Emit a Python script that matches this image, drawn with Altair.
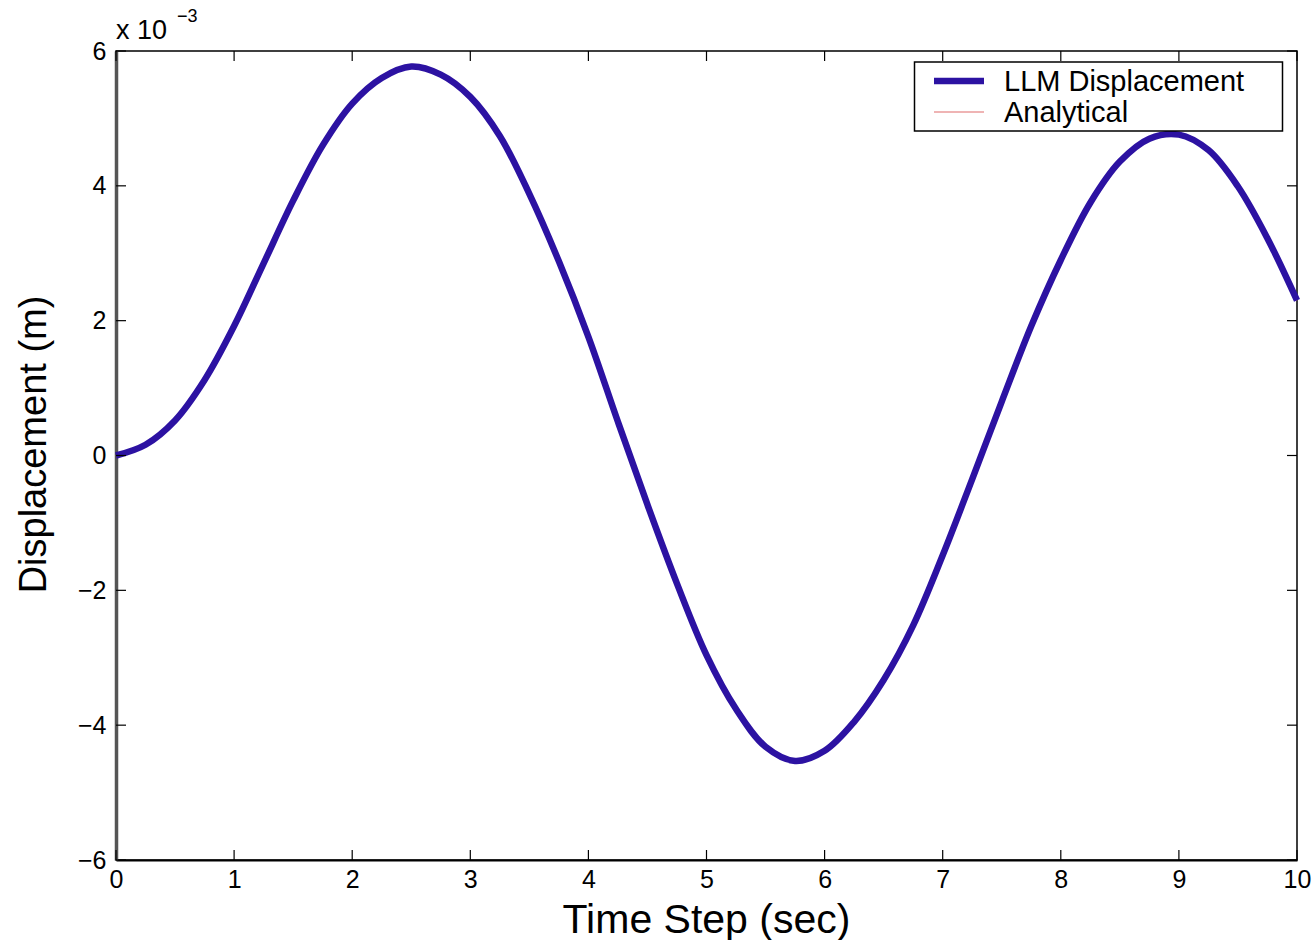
import altair as alt
import pandas as pd

# ---- data (displacement in units of 1e-3 m) ----
time_s = [0.0, 0.25, 0.5, 0.75, 1.0, 1.25, 1.5, 1.75, 2.0, 2.25, 2.5, 2.75,
          3.0, 3.25, 3.5, 3.75, 4.0, 4.25, 4.5, 4.75, 5.0, 5.25, 5.5, 5.75,
          6.0, 6.25, 6.5, 6.75, 7.0, 7.25, 7.5, 7.75, 8.0, 8.25, 8.5, 8.75,
          9.0, 9.25, 9.5, 9.75, 10.0]
llm_disp = [0.0, 0.16, 0.52, 1.12, 1.92, 2.85, 3.78, 4.60, 5.22, 5.60, 5.77, 5.65,
            5.32, 4.74, 3.88, 2.88, 1.76, 0.50, -0.73, -1.90, -2.96, -3.76, -4.32, -4.53,
            -4.38, -3.95, -3.33, -2.52, -1.48, -0.35, 0.80, 1.92, 2.90, 3.75, 4.36, 4.70,
            4.76, 4.53, 3.99, 3.22, 2.30]
analytical_disp = [0.0, 0.16, 0.52, 1.12, 1.92, 2.85, 3.78, 4.60, 5.22, 5.60, 5.77, 5.65,
                   5.32, 4.74, 3.88, 2.88, 1.76, 0.50, -0.73, -1.90, -2.96, -3.76, -4.32, -4.53,
                   -4.38, -3.95, -3.33, -2.52, -1.48, -0.35, 0.80, 1.92, 2.90, 3.75, 4.36, 4.70,
                   4.76, 4.53, 3.99, 3.22, 2.30]
series_names = ["LLM Displacement", "Analytical"]
series_colors = ["#2c12a2", "#e06a6a"]
series_widths = [6.5, 1.2]
x_ticks = [0, 1, 2, 3, 4, 5, 6, 7, 8, 9, 10]
y_ticks = [-6, -4, -2, 0, 2, 4, 6]

W, H = 1181, 809
FONT = "Liberation Sans"

df_llm = pd.DataFrame({"t": time_s, "v": llm_disp, "series": series_names[0]})
df_ana = pd.DataFrame({"t": time_s, "v": analytical_disp, "series": series_names[1]})
df_xt = pd.DataFrame({"t": x_ticks})
df_yt = pd.DataFrame({"v": y_ticks})

xscale = alt.Scale(domain=[0, 10], nice=False, zero=False)
yscale = alt.Scale(domain=[-6, 6], nice=False, zero=False)

xaxis = alt.Axis(values=x_ticks, format="d", ticks=False, tickSize=0, grid=False,
                 labelPadding=7, labelFlush=False, labelOverlap=False,
                 labelFontSize=25, labelFont=FONT, labelColor="black",
                 domainColor="black", domainWidth=2,
                 title="Time Step (sec)", titleFont=FONT, titleFontSize=41,
                 titleFontWeight="normal", titleColor="black",
                 titleX=590, titleY=72, titleBaseline="alphabetic", titleAlign="center")
yaxis = alt.Axis(values=y_ticks, format="d", ticks=False, tickSize=0, grid=False,
                 labelPadding=10, labelFlush=False, labelOverlap=False,
                 labelFontSize=25, labelFont=FONT, labelColor="black",
                 domainColor="#555555", domainWidth=3.5,
                 title="Displacement (m)", titleFont=FONT, titleFontSize=38,
                 titleFontWeight="normal", titleColor="black",
                 titleX=-82, titleY=393, titleAngle=270, titleBaseline="middle",
                 titleAlign="center")

color = alt.Color("series:N",
                  scale=alt.Scale(domain=series_names, range=series_colors),
                  legend=None)
swidth = alt.StrokeWidth("series:N",
                         scale=alt.Scale(domain=series_names, range=series_widths),
                         legend=None)

ana_line = alt.Chart(df_ana).mark_line(interpolate="catmull-rom").encode(
    x=alt.X("t:Q", scale=xscale, axis=xaxis),
    y=alt.Y("v:Q", scale=yscale, axis=yaxis),
    color=color, strokeWidth=swidth)
llm_line = alt.Chart(df_llm).mark_line(interpolate="catmull-rom").encode(
    x=alt.X("t:Q", scale=xscale), y=alt.Y("v:Q", scale=yscale),
    color=color, strokeWidth=swidth)

tick_len = 10
bot_ticks = alt.Chart(df_xt).mark_rule(color="black", strokeWidth=1.2).encode(
    x=alt.X("t:Q", scale=xscale), y=alt.value(H), y2=alt.value(H - tick_len))
top_ticks = alt.Chart(df_xt).mark_rule(color="black", strokeWidth=1.2).encode(
    x=alt.X("t:Q", scale=xscale), y=alt.value(0), y2=alt.value(tick_len))
left_ticks = alt.Chart(df_yt).mark_rule(color="black", strokeWidth=1.2).encode(
    y=alt.Y("v:Q", scale=yscale), x=alt.value(0), x2=alt.value(tick_len))
right_ticks = alt.Chart(df_yt).mark_rule(color="black", strokeWidth=1.2).encode(
    y=alt.Y("v:Q", scale=yscale), x=alt.value(W), x2=alt.value(W - tick_len))

# exponent label "x 10^-3"
exp_base = alt.Chart(pd.DataFrame({"txt": ["x 10"]})).mark_text(
    font=FONT, fontSize=27, align="left", baseline="alphabetic", color="black").encode(
    text="txt:N", x=alt.value(0), y=alt.value(-12))
exp_sup = alt.Chart(pd.DataFrame({"txt": ["\u22123"]})).mark_text(
    font=FONT, fontSize=18, align="left", baseline="alphabetic", color="black").encode(
    text="txt:N", x=alt.value(61), y=alt.value(-29))

# legend (MATLAB-style box in the top right corner)
leg_box = alt.Chart(pd.DataFrame({"k": [0]})).mark_rect(
    fill="white", stroke="black", strokeWidth=1.5).encode(
    x=alt.value(798.5), x2=alt.value(1166.5), y=alt.value(11), y2=alt.value(80))
leg_df = pd.DataFrame({"series": series_names, "row": [0, 1]})
leg_l1 = alt.Chart(leg_df.iloc[[0]]).mark_rule().encode(
    x=alt.value(818), x2=alt.value(868), y=alt.value(30),
    color=color, strokeWidth=swidth)
leg_l2 = alt.Chart(leg_df.iloc[[1]]).mark_rule().encode(
    x=alt.value(818), x2=alt.value(868), y=alt.value(61),
    color=color, strokeWidth=swidth)
leg_t1 = alt.Chart(leg_df.iloc[[0]]).mark_text(
    font=FONT, fontSize=29, align="left", baseline="middle", color="black").encode(
    text="series:N", x=alt.value(888), y=alt.value(31))
leg_t2 = alt.Chart(leg_df.iloc[[1]]).mark_text(
    font=FONT, fontSize=29, align="left", baseline="middle", color="black").encode(
    text="series:N", x=alt.value(888), y=alt.value(62))

chart = alt.layer(ana_line, llm_line, bot_ticks, top_ticks, left_ticks, right_ticks,
                  exp_base, exp_sup, leg_box, leg_l1, leg_l2, leg_t1, leg_t2).properties(
    width=W, height=H,
    autosize=alt.AutoSizeParams(type="none"),
    padding={"left": 116, "top": 51, "right": 19, "bottom": 80},
    background="white",
).configure_view(stroke="black", strokeWidth=1.5)

chart.save("out.html", embed_options={"renderer": "svg", "actions": False})
